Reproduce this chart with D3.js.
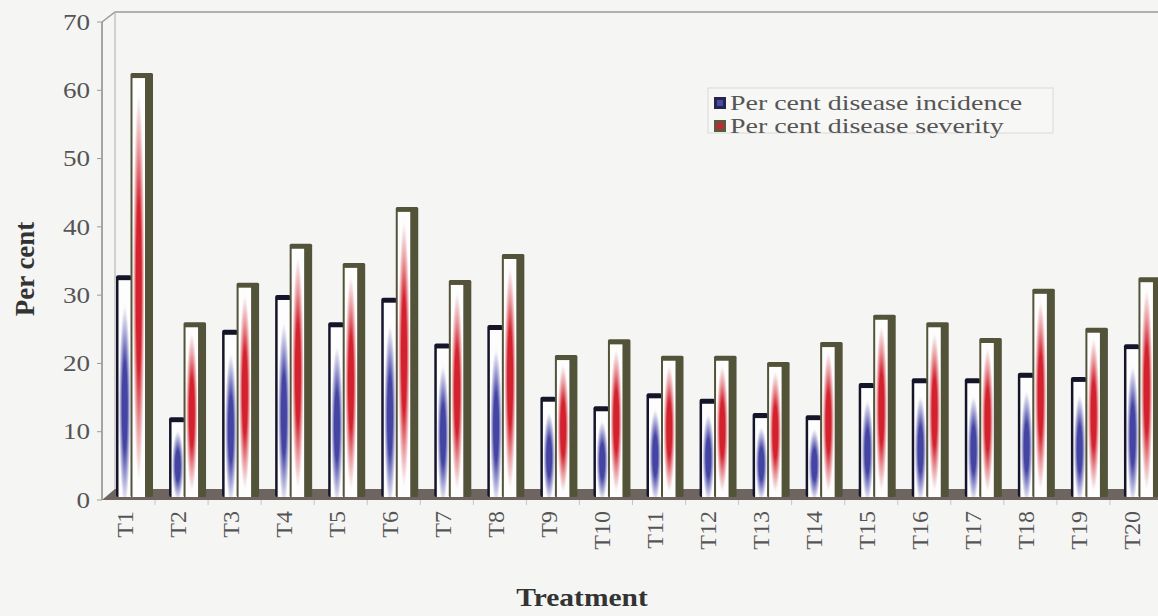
<!DOCTYPE html>
<html>
<head>
<meta charset="utf-8">
<script src="https://cdn.jsdelivr.net/npm/d3@7"></script>
<style>
  body { margin: 0; background: #f5f6f4; }
  svg { display: block; }
  text { font-family: "Liberation Serif", "Times New Roman", serif; }
</style>
</head>
<body>
<svg id="chart" width="1158" height="616"></svg>
<script>
// Treatments on the x axis
const treatments = ["T1","T2","T3","T4","T5","T6","T7","T8","T9","T10",
                    "T11","T12","T13","T14","T15","T16","T17","T18","T19","T20"];
// Per cent disease incidence
const incidence = [31.9, 11.1, 23.9, 29.0, 25.0, 28.6, 21.9, 24.6, 14.1, 12.7,
                   14.6, 13.8, 11.7, 11.4, 16.1, 16.8, 16.8, 17.6, 17.0, 21.8];
// Per cent disease severity
const severity  = [61.5, 25.0, 30.8, 36.5, 33.7, 41.9, 31.2, 35.0, 20.2, 22.5,
                   20.1, 20.1, 19.2, 22.1, 26.1, 25.0, 22.7, 29.9, 24.2, 31.6];
const yTicks = [0, 10, 20, 30, 40, 50, 60, 70];
const seriesNames = ["Per cent disease incidence", "Per cent disease severity"];
const seriesKeys = ["incidence", "severity"];

const svg = d3.select("#chart");
const W = 1158, H = 616;
const stretch = 1.18;     // text is set slightly wide

svg.append("rect").attr("width", W).attr("height", H).attr("fill", "#f5f6f4");

// scales
const y = d3.scaleLinear().domain([0, 70]).range([500, 22]);
const x = d3.scaleBand().domain(treatments).range([96, 1157]).padding(0);
const inner = d3.scaleBand().domain(seriesKeys).range([20, 49]).padding(0);

// 3D offsets of the chart box
const depthX = 13, depthY = 10;
const axisX = 102;
const faceShift = 3;      // bar front plane sits slightly in front of the axis plane
const cap = 4;            // visible top thickness of a column
const sideW = 8;          // visible side width of a column

// gradients: colour concentrated in the middle of each column face
const defs = svg.append("defs");
function faceGradient(id, color, mid, cy) {
  const g = defs.append("radialGradient")
    .attr("id", id).attr("cx", 0.5).attr("cy", cy).attr("r", 0.5)
    .attr("gradientUnits", "objectBoundingBox");
  g.append("stop").attr("offset", 0).attr("stop-color", color);
  g.append("stop").attr("offset", 0.4).attr("stop-color", color);
  g.append("stop").attr("offset", 0.68).attr("stop-color", mid);
  g.append("stop").attr("offset", 0.92).attr("stop-color", "#fbfbfb");
  g.append("stop").attr("offset", 1).attr("stop-color", "#fdfdfd");
}
faceGradient("gradInc", "#4444a2", "#a9a9d8", 0.58);
faceGradient("gradSev", "#d3222e", "#eba0a4", 0.5);

// walls
const walls = svg.append("g");
walls.append("path")
  .attr("d", `M${axisX},${y(70)} L${axisX + depthX},${y(70) - depthY} L${W},${y(70) - depthY}`)
  .attr("fill", "none").attr("stroke", "#9a9a9a").attr("stroke-width", 1.5);
walls.append("line")
  .attr("x1", axisX + depthX).attr("x2", axisX + depthX)
  .attr("y1", y(70) - depthY).attr("y2", y(0) - depthY)
  .attr("stroke", "#b8b8b8").attr("stroke-width", 1.2);

// floor
svg.append("path")
  .attr("d", `M${axisX},${y(0)} L${axisX + depthX},${y(0) - depthY - 1} L${W},${y(0) - depthY - 1} L${W},${y(0)} Z`)
  .attr("fill", "#6e6460");

// value axis
const yAxis = svg.append("g");
yAxis.append("line")
  .attr("x1", axisX).attr("x2", axisX).attr("y1", y(70)).attr("y2", y(0))
  .attr("stroke", "#8a8a8a").attr("stroke-width", 1.5);
yAxis.selectAll("line.tick").data(yTicks).join("line")
  .attr("class", "tick")
  .attr("x1", axisX - 5).attr("x2", axisX)
  .attr("y1", d => y(d)).attr("y2", d => y(d))
  .attr("stroke", "#9a9a9a");
yAxis.selectAll("text").data(yTicks).join("text")
  .attr("transform", d => `translate(90,${y(d)}) scale(${stretch},1)`)
  .attr("text-anchor", "end").attr("dominant-baseline", "central")
  .attr("font-size", 23).attr("fill", "#555")
  .text(d => d);

// columns
const groups = svg.append("g").selectAll("g").data(treatments).join("g")
  .attr("transform", d => `translate(${x(d)},0)`);

const bottom = y(0) - faceShift;

// incidence column
groups.each(function(t, i) {
  const g = d3.select(this);
  const v = incidence[i];
  const top = y(v) - faceShift;
  const x0 = inner("incidence"), w = inner.bandwidth();
  g.append("rect").attr("x", x0).attr("y", top - cap).attr("width", w + 1)
    .attr("height", bottom - top + cap).attr("rx", 2).attr("fill", "#15152a");
  g.append("rect").attr("x", x0 + 2.5).attr("y", top + 1).attr("width", w - 2)
    .attr("height", bottom - top - 1).attr("fill", "url(#gradInc)");
});

// severity column
groups.each(function(t, i) {
  const g = d3.select(this);
  const v = severity[i];
  const top = y(v) - faceShift;
  const x0 = inner("severity"), w = inner.bandwidth();
  g.append("rect").attr("x", x0).attr("y", top - cap).attr("width", w + sideW)
    .attr("height", bottom - top + cap).attr("rx", 1.5).attr("fill", "#53533a");
  g.append("rect").attr("x", x0 + 2).attr("y", top + 1).attr("width", w - 2)
    .attr("height", bottom - top - 1).attr("fill", "url(#gradSev)");
});

// category ticks under the floor
svg.append("g").selectAll("line").data(treatments.slice(1)).join("line")
  .attr("x1", d => x(d) + 6).attr("x2", d => x(d) + 6)
  .attr("y1", y(0)).attr("y2", y(0) + 5)
  .attr("stroke", "#c4c4c4");

// category labels
svg.append("g").selectAll("text").data(treatments).join("text")
  .attr("transform", d => `translate(${x(d) + x.bandwidth() / 2 + 2},511) rotate(-90)`)
  .attr("text-anchor", "end").attr("dominant-baseline", "central")
  .attr("font-size", 24).attr("fill", "#555")
  .text(d => d);

// axis titles
svg.append("text")
  .attr("transform", "translate(25,269) rotate(-90)")
  .attr("text-anchor", "middle").attr("dominant-baseline", "central")
  .attr("font-size", 27).attr("font-weight", "bold").attr("fill", "#333")
  .text("Per cent");
svg.append("text")
  .attr("transform", `translate(582,598) scale(${stretch},1)`)
  .attr("text-anchor", "middle").attr("dominant-baseline", "central")
  .attr("font-size", 25).attr("font-weight", "bold").attr("fill", "#333")
  .text("Treatment");

// legend
const legend = svg.append("g").attr("transform", "translate(708,88)");
legend.append("rect").attr("x", 0).attr("y", 0).attr("width", 345).attr("height", 45)
  .attr("fill", "#f7f8f6").attr("stroke", "#d8d8d8");
const legendColors = [["#26264a", "#4a4aa8"], ["#5a5a3c", "#d42030"]];
const items = legend.selectAll("g").data(seriesNames).join("g")
  .attr("transform", (d, i) => `translate(6,${15 + i * 23})`);
items.append("rect").attr("x", 0).attr("y", -6).attr("width", 12).attr("height", 12)
  .attr("fill", (d, i) => legendColors[i][0]);
items.append("rect").attr("x", 3).attr("y", -3).attr("width", 6).attr("height", 6)
  .attr("fill", (d, i) => legendColors[i][1]);
items.append("text")
  .attr("transform", `translate(16,0) scale(1.27,1)`)
  .attr("dominant-baseline", "central")
  .attr("font-size", 22).attr("fill", "#555")
  .text(d => d);
</script>
</body>
</html>
